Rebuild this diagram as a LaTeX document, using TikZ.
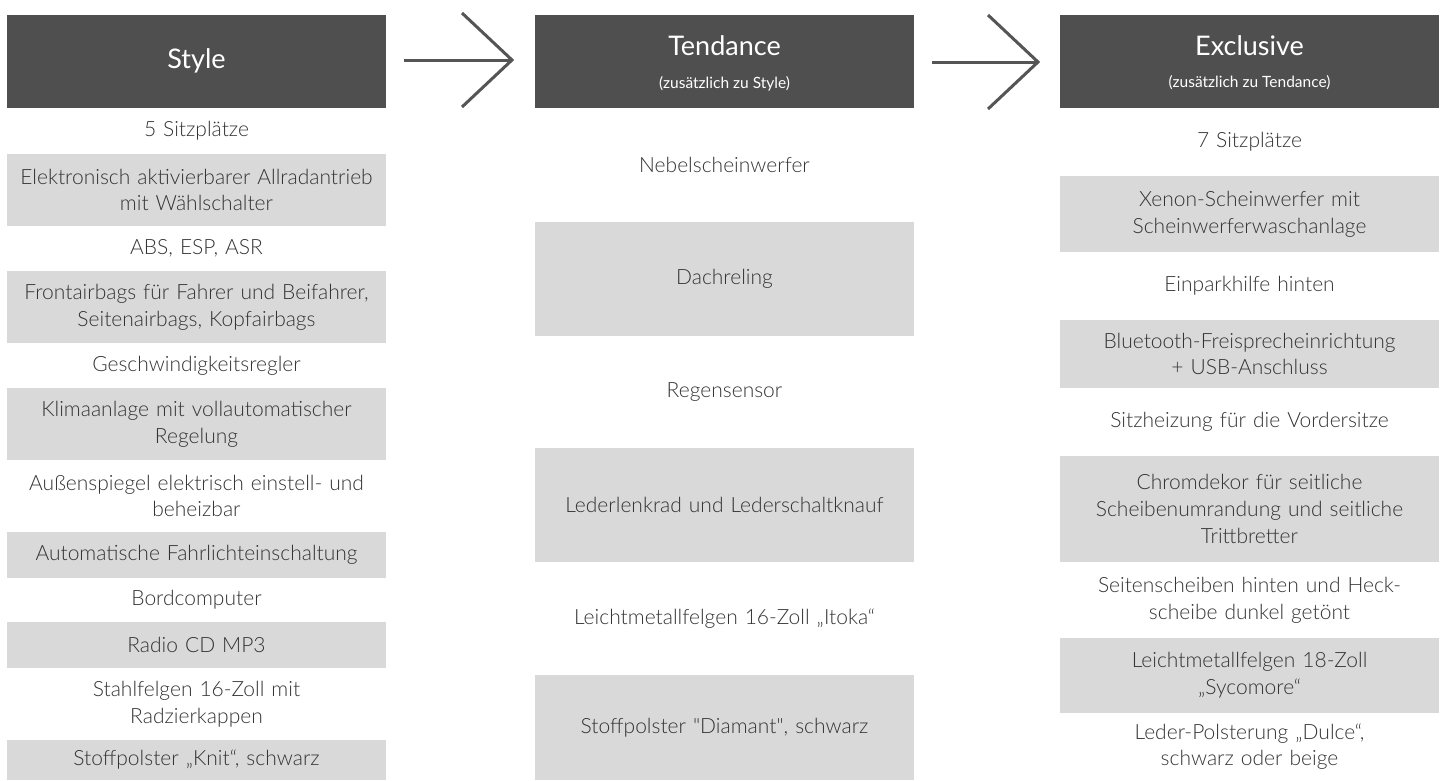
\documentclass[tikz,border=0pt]{standalone}
\usepackage{fontspec}
\setmainfont{Lato Light}[BoldFont={Lato}]
\newfontfamily\plainq{Lato Light}[Ligatures=ResetAll]
\newfontfamily\hdrfont{Lato}
\definecolor{hdr}{HTML}{4F4F4F}
\definecolor{rowgray}{HTML}{D9D9D9}
\definecolor{txt}{HTML}{333333}
\definecolor{arr}{HTML}{555555}
\begin{document}
\begin{tikzpicture}[x=1pt,y=-1pt,
  hdrbox/.style={rectangle, fill=hdr, minimum width=379pt, minimum height=93pt, inner sep=0pt},
  hdrtitle/.style={anchor=base, inner sep=0pt, text=white, font=\hdrfont\fontsize{27}{32}\selectfont},
  hdrsub/.style={anchor=base, inner sep=0pt, text=white, font=\hdrfont\fontsize{15.5}{18}\selectfont},
  rowbox/.style={rectangle, minimum width=379pt, inner sep=0pt, text width=378pt, align=center, text=txt, font=\fontsize{21}{26.7}\selectfont},
  grayrow/.style={rowbox, fill=rowgray},
  arrowline/.style={draw=arr, line width=3pt}
]
\useasboundingbox (0,0) rectangle (1442,780);
% headers
\node[hdrbox] (hstyle) at (196.5,61.5) {};
\node[hdrtitle] (hstyleT) at (196.5,68) {Style};
\node[hdrbox] (htend) at (724.5,61.5) {};
\node[hdrtitle] (htendT) at (724.5,55) {Tendance};
\node[hdrsub] (htendS) at (724.5,88) {(zusätzlich zu Style)};
\node[hdrbox] (hexcl) at (1249.5,61.5) {};
\node[hdrtitle] (hexclT) at (1249.5,55.5) {Exclusive};
\node[hdrsub] (hexclS) at (1249.5,87.5) {(zusätzlich zu Tendance)};
% arrows
\coordinate (a1s) at (404,60);
\coordinate (a1e) at (512,60);
\coordinate (a2s) at (932,62);
\coordinate (a2e) at (1038,62);
\draw[arrowline] (a1s) -- (a1e);
\draw[arrowline, line join=miter] ([shift={(-50,-47)}]a1e) -- (a1e) -- ([shift={(-50,47)}]a1e);
\draw[arrowline] (a2s) -- (a2e);
\draw[arrowline, line join=miter] ([shift={(-50,-47)}]a2e) -- (a2e) -- ([shift={(-50,47)}]a2e);
% left column
\node[rowbox, minimum height=46pt] (s1) at (196.5,131) {5 Sitzplätze};
\node[grayrow, minimum height=72pt] (s2) at (196.5,190) {Elektronisch aktivierbarer Allradantrieb\\mit Wählschalter};
\node[rowbox, minimum height=45pt] (s3) at (196.5,248.5) {ABS, ESP, ASR};
\node[grayrow, minimum height=72pt] (s4) at (196.5,307) {Frontairbags für Fahrer und Beifahrer,\\Seitenairbags, Kopfairbags};
\node[rowbox, minimum height=45pt] (s5) at (196.5,365.5) {Geschwindigkeitsregler};
\node[grayrow, minimum height=72pt] (s6) at (196.5,424) {Klimaanlage mit vollautomatischer\\Regelung};
\node[rowbox, minimum height=72pt] (s7) at (196.5,496) {Außenspiegel elektrisch einstell- und\\beheizbar};
\node[grayrow, minimum height=46pt] (s8) at (196.5,555) {Automatische Fahrlichteinschaltung};
\node[rowbox, minimum height=44pt] (s9) at (196.5,600) {Bordcomputer};
\node[grayrow, minimum height=46pt] (s10) at (196.5,645) {Radio CD MP3};
\node[rowbox, minimum height=72pt] (s11) at (196.5,704) {Stahlfelgen 16-Zoll mit\\Radzierkappen};
\node[grayrow, minimum height=40pt] (s12) at (196.5,760) {Stoffpolster „Knit“, schwarz};
% middle column
\node[rowbox, minimum height=114pt] (t1) at (724.5,165) {Nebelscheinwerfer};
\node[grayrow, minimum height=114pt] (t2) at (724.5,279) {Dachreling};
\node[rowbox, minimum height=112pt] (t3) at (724.5,392) {Regensensor};
\node[grayrow, minimum height=114pt] (t4) at (724.5,505) {Lederlenkrad und Lederschaltknauf};
\node[rowbox, minimum height=113pt] (t5) at (724.5,618.5) {Leichtmetallfelgen 16-Zoll „Itoka“};
\node[grayrow, minimum height=105pt] (t6) at (724.5,727.5) {Stoffpolster {\plainq"}Diamant{\plainq"}, schwarz};
% right column
\node[rowbox, minimum height=68pt] (e1) at (1249.5,142) {7 Sitzplätze};
\node[grayrow, minimum height=76pt] (e2) at (1249.5,214) {Xenon-Scheinwerfer mit\\Scheinwerferwaschanlage};
\node[rowbox, minimum height=68pt] (e3) at (1249.5,286) {Einparkhilfe hinten};
\node[grayrow, minimum height=68pt] (e4) at (1249.5,354) {Bluetooth-Freisprecheinrichtung\\+ USB-Anschluss};
\node[rowbox, minimum height=68pt] (e5) at (1249.5,422) {Sitzheizung für die Vordersitze};
\node[grayrow, minimum height=106pt] (e6) at (1249.5,509) {Chromdekor für seitliche\\Scheibenumrandung und seitliche\\Trittbretter};
\node[rowbox, minimum height=76pt] (e7) at (1249.5,600) {Seitenscheiben hinten und Heck-\\scheibe dunkel getönt};
\node[grayrow, minimum height=75pt] (e8) at (1249.5,675.5) {Leichtmetallfelgen 18-Zoll\\„Sycomore“};
\node[rowbox, minimum height=67pt] (e9) at (1249.5,746.5) {Leder-Polsterung „Dulce“,\\schwarz oder beige};
\end{tikzpicture}
\end{document}
